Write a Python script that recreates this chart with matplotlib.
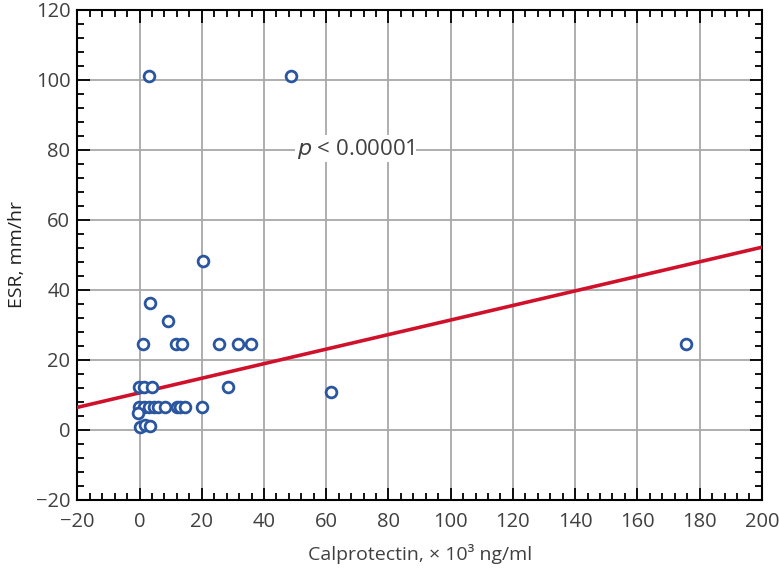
import matplotlib
matplotlib.use("Agg")
import matplotlib.pyplot as plt
from matplotlib.ticker import MultipleLocator

# calprotectin (x 10^3 ng/ml) and ESR (mm/hr)
calpro = [3.0, 48.7, 20.5, 3.4, 9.2,
          1.0, 11.7, 13.8, 25.5, 31.7, 35.7, 175.7,
          -0.3, 1.3, 4.0, 28.5,
          -0.3, 1.3, 2.9, 4.5, 6.1, 8.2, 12.0, 13.0, 14.6, 20.0,
          -0.5, 0.2, 1.8, 3.4, 61.4]
esr = [101.2, 101.2, 48.3, 36.2, 31.2,
       24.5, 24.5, 24.5, 24.5, 24.5, 24.5, 24.5,
       12.4, 12.4, 12.4, 12.4,
       6.6, 6.6, 6.6, 6.6, 6.6, 6.6, 6.6, 6.6, 6.6, 6.6,
       4.8, 0.7, 1.4, 1.0, 10.7]

# regression line
fit_x = [-20, 200]
fit_intercept = 10.6
fit_slope = 0.208

TEXT = "#404040"
plt.rcParams["font.family"] = ["Open Sans", "DejaVu Sans"]

fig = plt.figure(figsize=(7.79, 5.70), dpi=100)
ax = fig.add_axes([0.0992, 0.123, 0.8788, 0.8595])

ax.set_xlim(-20, 200)
ax.set_ylim(-20, 120)
ax.xaxis.set_major_locator(MultipleLocator(20))
ax.xaxis.set_minor_locator(MultipleLocator(4))
ax.yaxis.set_major_locator(MultipleLocator(20))
ax.yaxis.set_minor_locator(MultipleLocator(4))
ax.grid(True, which="major", color="#a8a8a8", linewidth=1.3)
ax.set_axisbelow(True)

ax.tick_params(which="both", direction="in", top=True, right=True,
               color="black", labelsize=14.5, labelcolor=TEXT)
ax.tick_params(axis="x", pad=9)
ax.tick_params(axis="y", pad=5)
ax.tick_params(which="major", length=9, width=1.3)
ax.tick_params(which="minor", length=5, width=1.3)
for sp in ax.spines.values():
    sp.set_linewidth(1.5)

fit_y = [fit_intercept + fit_slope * x for x in fit_x]
ax.plot(fit_x, fit_y, color="#d0112b", linewidth=2.6, zorder=3)
ax.scatter(calpro, esr, s=60, facecolors="white", edgecolors="#2a56a0",
           linewidths=2.0, zorder=4, clip_on=False)

ax.text(50.5, 80.4, "$p$ < 0.00001", fontsize=16, color=TEXT,
        ha="left", va="center",
        bbox=dict(facecolor="white", edgecolor="none", pad=1))

ax.set_xlabel("Calprotectin, \u00d7 10\u00b3 ng/ml", fontsize=14,
              color=TEXT, labelpad=8)
ax.set_ylabel("ESR, mm/hr", fontsize=14, color="#222222", labelpad=7)

fig.savefig("out.png", dpi=100)
